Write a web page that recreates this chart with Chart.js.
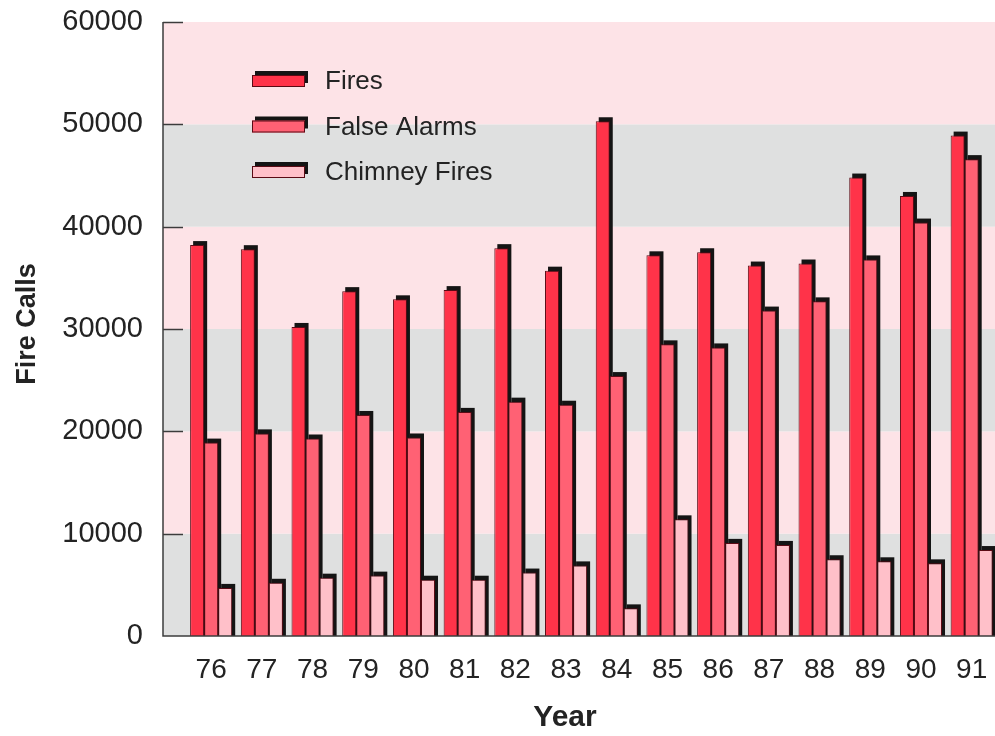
<!DOCTYPE html>
<html>
<head>
<meta charset="utf-8">
<title>Fire Calls</title>
<script src="https://cdn.jsdelivr.net/npm/chart.js@4.4.1/dist/chart.umd.min.js"></script>
<style>
  html, body { margin: 0; padding: 0; background: #fff; }
</style>
</head>
<body>
<canvas id="fireChart" width="995" height="736"></canvas>
<script>
// calls per year
var years = [76, 77, 78, 79, 80, 81, 82, 83, 84, 85, 86, 87, 88, 89, 90, 91];
var fires = [38200, 37800, 30200, 33700, 32900, 33800, 37900, 35700, 50300, 37200, 37500, 36200, 36400, 44800, 43000, 48900];
var falseAlarms = [18900, 19800, 19300, 21600, 19400, 21900, 22900, 22600, 25400, 28500, 28200, 31800, 32700, 36800, 40400, 46600];
var chimneyFires = [4700, 5200, 5700, 5900, 5500, 5500, 6200, 6900, 2700, 11400, 9100, 8900, 7500, 7300, 7100, 8400];
var yTicks = [0, 10000, 20000, 30000, 40000, 50000, 60000];
var xTitle = 'Year';
var yTitle = 'Fire Calls';

var FONT = "'Liberation Sans', Arial, Helvetica, sans-serif";
var textColor = '#232323';
var axisColor = '#3c3c3c';
var bandGray = '#dfe0e0';
var bandPink = '#fde3e7';
var shadowColor = '#141414';

function toPoints(values) {
	return values.map(function(v, i) { return { x: years[i], y: v }; });
}

// background bands, tick marks, 3d shadows, axis lines, titles and legend
var chartDecor = {
	id: 'chartDecor',
	beforeDraw: function(chart) {
		var c = chart.ctx, area = chart.chartArea, ys = chart.scales.y;
		c.save();
		for (var i = 0; i < yTicks.length - 1; i++) {
			var top = ys.getPixelForValue(yTicks[i + 1]);
			var bot = ys.getPixelForValue(yTicks[i]);
			c.fillStyle = (i % 2 == 0) ? bandGray : bandPink;
			c.fillRect(area.left, top, area.right - area.left, bot - top);
		}
		c.restore();
	},
	beforeDatasetsDraw: function(chart) {
		var c = chart.ctx, area = chart.chartArea, ys = chart.scales.y;
		c.save();
		c.strokeStyle = axisColor;
		c.lineWidth = 1.5;
		for (var i = 1; i < yTicks.length; i++) {
			var py = Math.round(ys.getPixelForValue(yTicks[i])) + 0.5;
			c.beginPath();
			c.moveTo(area.left, py);
			c.lineTo(area.left + 20, py);
			c.stroke();
		}
		c.fillStyle = shadowColor;
		chart.data.datasets.forEach(function(ds, di) {
			chart.getDatasetMeta(di).data.forEach(function(bar) {
				c.fillRect(bar.x - bar.width / 2 + 3, bar.y - 4, bar.width, bar.base - bar.y + 4);
			});
		});
		c.restore();
	},
	afterDatasetsDraw: function(chart) {
		var c = chart.ctx, area = chart.chartArea;
		c.save();
		c.strokeStyle = axisColor;
		c.lineWidth = 1.5;
		c.beginPath();
		c.moveTo(area.left, area.top);
		c.lineTo(area.left, area.bottom);
		c.lineTo(area.right, area.bottom);
		c.stroke();

		// axis titles
		c.fillStyle = textColor;
		c.textAlign = 'center';
		c.textBaseline = 'middle';
		c.font = 'bold 30px ' + FONT;
		c.fillText(xTitle, 565, 718);
		c.save();
		c.translate(28, 324);
		c.rotate(-Math.PI / 2);
		c.font = 'bold 27px ' + FONT;
		c.fillText(yTitle, 0, 0);
		c.restore();

		// legend
		c.textAlign = 'left';
		c.font = '26px ' + FONT;
		chart.data.datasets.forEach(function(ds, i) {
			var cy = area.top + 59 + i * 45.5;
			var left = area.left + 89, w = 53, h = 12, top = cy - h / 2;
			c.fillStyle = shadowColor;
			c.fillRect(left + 3, top - 4, w, h);
			c.fillStyle = ds.backgroundColor;
			c.fillRect(left, top, w, h);
			c.lineWidth = 1;
			c.strokeStyle = ds.borderColor;
			c.strokeRect(left + 0.5, top + 0.5, w - 1, h - 1);
			c.fillStyle = textColor;
			c.fillText(ds.label, area.left + 162, cy + 1);
		});
		c.restore();
	}
};

var ctx = document.getElementById('fireChart').getContext('2d');
var fireChart = new Chart(ctx, {
	type: 'bar',
	data: {
		datasets: [
			{ label: 'Fires', data: toPoints(fires), backgroundColor: '#ff3349', borderColor: '#5a0a14', borderWidth: 1 },
			{ label: 'False Alarms', data: toPoints(falseAlarms), backgroundColor: '#ff6174', borderColor: '#5a0a14', borderWidth: 1 },
			{ label: 'Chimney Fires', data: toPoints(chimneyFires), backgroundColor: '#ffc0c9', borderColor: '#5a0a14', borderWidth: 1 }
		]
	},
	options: {
		responsive: false,
		devicePixelRatio: 1,
		animation: false,
		layout: { padding: { top: 22, right: 0, bottom: 0, left: 0 } },
		datasets: { bar: { barPercentage: 1, categoryPercentage: 0.83 } },
		scales: {
			x: {
				type: 'linear',
				min: 75.05,
				max: 91.46,
				offset: false,
				grid: { display: false, offset: false },
				border: { display: false },
				afterBuildTicks: function(s) { s.ticks = years.map(function(v) { return { value: v }; }); },
				afterFit: function(s) { s.height = 100; s.paddingLeft = 0; s.paddingRight = 0; },
				ticks: {
					font: { family: FONT, size: 28 },
					color: textColor,
					padding: 9,
					maxRotation: 0,
					callback: function(v) { return String(v); }
				}
			},
			y: {
				min: 0,
				max: 60000,
				grid: { display: false },
				border: { display: false },
				afterBuildTicks: function(s) { s.ticks = yTicks.map(function(v) { return { value: v }; }); },
				afterFit: function(s) { s.width = 163; s.paddingTop = 0; s.paddingBottom = 0; },
				ticks: {
					font: { family: FONT, size: 29 },
					color: textColor,
					padding: 12,
					callback: function(v) { return String(v); }
				}
			}
		},
		plugins: {
			legend: { display: false },
			tooltip: { enabled: false }
		}
	},
	plugins: [chartDecor]
});
</script>
</body>
</html>
